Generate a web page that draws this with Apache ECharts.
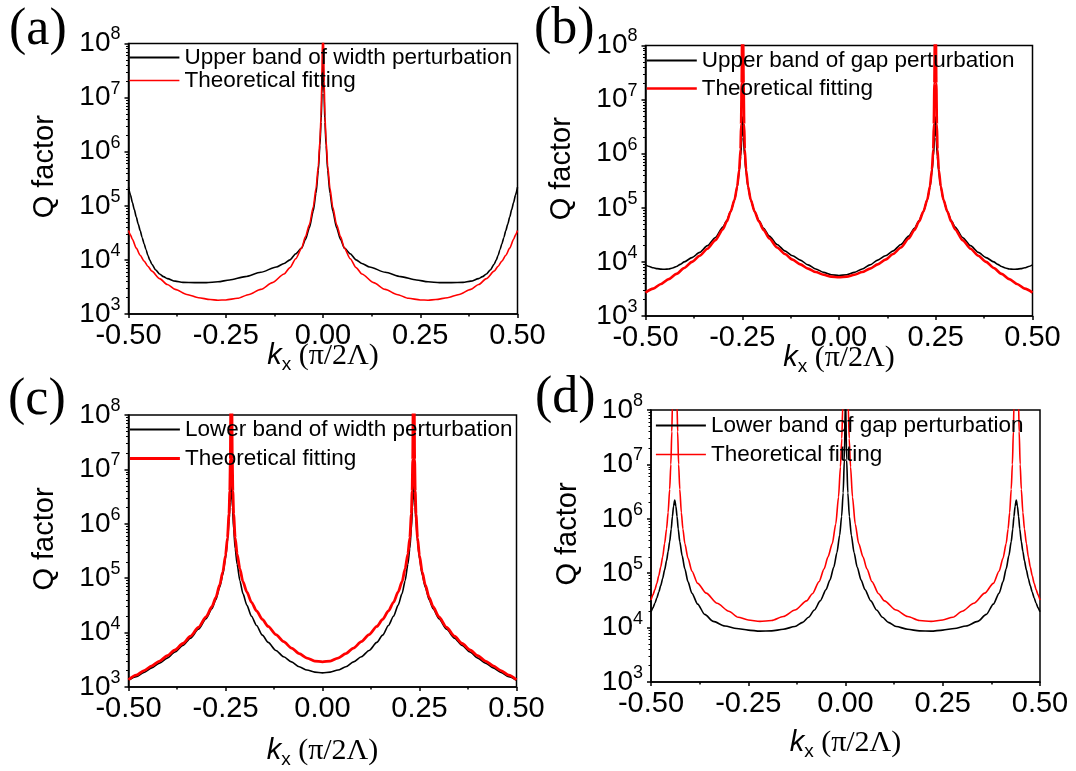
<!DOCTYPE html>
<html>
<head>
<meta charset="utf-8">
<script src="https://cdn.jsdelivr.net/npm/echarts@6/dist/echarts.min.js"></script>
<style>
html,body{margin:0;padding:0;background:#fff;}
#chart{width:1076px;height:771px;}
</style>
</head>
<body>
<div id="chart"></div>
<script>
// ---------------- data ----------------
// (a) upper band, width perturbation
var aBlackX = [-0.5,-0.495,-0.49,-0.485,-0.48,-0.475,-0.47,-0.465,-0.46,-0.455,-0.45,-0.445,-0.44,-0.43,-0.42,-0.41,-0.40,-0.38,-0.36,-0.33,-0.30,-0.27,-0.24,-0.20,-0.16,-0.12,-0.10,-0.085,-0.07,-0.055,-0.045,-0.035,-0.025,-0.018,-0.012,-0.008,-0.005,-0.0025,0,
               0.0025,0.005,0.008,0.012,0.018,0.025,0.035,0.045,0.055,0.07,0.085,0.10,0.12,0.16,0.20,0.24,0.27,0.30,0.33,0.36,0.38,0.40,0.41,0.42,0.43,0.44,0.445,0.45,0.455,0.46,0.465,0.47,0.475,0.48,0.485,0.49,0.495,0.5];
var aBlackQ = [2.2e5,1.6e5,1.15e5,8.5e4,6.2e4,4.6e4,3.5e4,2.6e4,2e4,1.55e4,1.2e4,9.8e3,8.3e3,6.5e3,5.5e3,4.9e3,4.5e3,4.05e3,3.85e3,3.8e3,3.8e3,3.95e3,4.25e3,4.9e3,5.9e3,7.4e3,8.6e3,1.0e4,1.3e4,1.65e4,2.4e4,3.9e4,8e4,1.7e5,4.5e5,1.3e6,3.5e6,1.2e7,5e7,
               1.2e7,3.5e6,1.3e6,4.5e5,1.7e5,8e4,3.9e4,2.4e4,1.65e4,1.3e4,1.0e4,8.6e3,7.4e3,5.9e3,4.9e3,4.25e3,3.95e3,3.8e3,3.8e3,3.85e3,4.05e3,4.5e3,4.9e3,5.5e3,6.5e3,8.3e3,9.8e3,1.2e4,1.55e4,2e4,2.6e4,3.5e4,4.6e4,6.2e4,8.5e4,1.15e5,1.6e5,2.2e5];
var aRedX = [-0.5,-0.495,-0.49,-0.48,-0.47,-0.46,-0.45,-0.44,-0.42,-0.40,-0.38,-0.35,-0.32,-0.29,-0.27,-0.25,-0.22,-0.19,-0.16,-0.13,-0.10,-0.085,-0.07,-0.055,-0.045,-0.035,-0.025,-0.018,-0.012,-0.008,-0.005,-0.003,-0.0015,0,
             0.0015,0.003,0.005,0.008,0.012,0.018,0.025,0.035,0.045,0.055,0.07,0.085,0.10,0.13,0.16,0.19,0.22,0.25,0.27,0.29,0.32,0.35,0.38,0.40,0.42,0.44,0.45,0.46,0.47,0.48,0.49,0.495,0.5];
var aRedQ = [3.5e4,2.9e4,2.4e4,1.65e4,1.22e4,9.5e3,7.6e3,6.2e3,4.5e3,3.5e3,2.85e3,2.3e3,2.0e3,1.85e3,1.8e3,1.82e3,1.95e3,2.3e3,2.85e3,3.8e3,5.5e3,7.2e3,1.05e4,1.65e4,2.7e4,4.5e4,9.5e4,2.1e5,5.5e5,1.6e6,4.5e6,2e7,1.2e8,1e12,
             1.2e8,2e7,4.5e6,1.6e6,5.5e5,2.1e5,9.5e4,4.5e4,2.7e4,1.65e4,1.05e4,7.2e3,5.5e3,3.8e3,2.85e3,2.3e3,1.95e3,1.82e3,1.8e3,1.85e3,2.0e3,2.3e3,2.85e3,3.5e3,4.5e3,6.2e3,7.6e3,9.5e3,1.22e4,1.65e4,2.4e4,2.9e4,3.5e4];

// (b) upper band, gap perturbation
var bBlackX = [-0.5,-0.49,-0.48,-0.47,-0.46,-0.45,-0.44,-0.43,-0.42,-0.41,-0.40,-0.38,-0.36,-0.34,-0.32,-0.30,-0.29,-0.28,-0.27,-0.263,-0.258,-0.254,-0.251,-0.249,-0.247,-0.244,-0.24,-0.235,-0.228,-0.218,-0.207,-0.195,-0.18,-0.16,-0.14,-0.12,-0.10,-0.08,-0.06,-0.04,-0.02,0,
               0.02,0.04,0.06,0.08,0.10,0.12,0.14,0.16,0.18,0.195,0.207,0.218,0.228,0.235,0.24,0.244,0.247,0.249,0.251,0.254,0.258,0.263,0.27,0.28,0.29,0.30,0.32,0.34,0.36,0.38,0.40,0.41,0.42,0.43,0.44,0.45,0.46,0.47,0.48,0.49,0.5];
var bBlackQ = [8.8e3,8.2e3,7.8e3,7.5e3,7.35e3,7.3e3,7.4e3,7.7e3,8.2e3,9e3,1e4,1.2e4,1.5e4,2.0e4,2.8e4,4.4e4,5.8e4,8.5e4,1.4e5,2.4e5,4.5e5,9e5,2e6,4.8e6,2e6,9e5,4.5e5,2.4e5,1.4e5,8.5e4,5.8e4,4.2e4,3e4,2.1e4,1.6e4,1.3e4,1.08e4,8.8e3,7.4e3,6.4e3,5.8e3,5.6e3,
               5.8e3,6.4e3,7.4e3,8.8e3,1.08e4,1.3e4,1.6e4,2.1e4,3e4,4.2e4,5.8e4,8.5e4,1.4e5,2.4e5,4.5e5,9e5,2e6,4.8e6,2e6,9e5,4.5e5,2.4e5,1.4e5,8.5e4,5.8e4,4.4e4,2.8e4,2.0e4,1.5e4,1.2e4,1e4,9e3,8.2e3,7.7e3,7.4e3,7.3e3,7.35e3,7.5e3,7.8e3,8.2e3,8.8e3];
var bRedX = [-0.5,-0.48,-0.46,-0.44,-0.42,-0.40,-0.38,-0.36,-0.34,-0.32,-0.30,-0.29,-0.28,-0.27,-0.263,-0.258,-0.2545,-0.253,-0.2515,-0.2505,-0.249,-0.2475,-0.2465,-0.245,-0.2435,-0.24,-0.235,-0.228,-0.218,-0.207,-0.195,-0.18,-0.16,-0.14,-0.12,-0.10,-0.08,-0.06,-0.04,-0.02,0,
             0.02,0.04,0.06,0.08,0.10,0.12,0.14,0.16,0.18,0.195,0.207,0.218,0.228,0.235,0.24,0.2435,0.245,0.2465,0.2475,0.249,0.2505,0.2515,0.253,0.2545,0.258,0.263,0.27,0.28,0.29,0.30,0.32,0.34,0.36,0.38,0.40,0.42,0.44,0.46,0.48,0.5];
var bRedQ = [2.7e3,3.2e3,3.9e3,4.8e3,6e3,7.7e3,1e4,1.3e4,1.75e4,2.5e4,4e4,5.6e4,8.5e4,1.4e5,2.5e5,5e5,1.2e6,3.5e6,2e7,1.2e8,1e12,1.2e8,2e7,3.5e6,1.2e6,5e5,2.5e5,1.4e5,8.5e4,5.6e4,3.9e4,2.7e4,1.85e4,1.4e4,1.1e4,9e3,7.5e3,6.5e3,5.8e3,5.35e3,5.2e3,
             5.35e3,5.8e3,6.5e3,7.5e3,9e3,1.1e4,1.4e4,1.85e4,2.7e4,3.9e4,5.6e4,8.5e4,1.4e5,2.5e5,5e5,1.2e6,3.5e6,2e7,1.2e8,1e12,1.2e8,2e7,3.5e6,1.2e6,5e5,2.5e5,1.4e5,8.5e4,5.6e4,4e4,2.5e4,1.75e4,1.3e4,1e4,7.7e3,6e3,4.8e3,3.9e3,3.2e3,2.7e3];

// (c) lower band, width perturbation
var cBlackX = [-0.5,-0.48,-0.46,-0.44,-0.42,-0.40,-0.38,-0.36,-0.34,-0.32,-0.30,-0.285,-0.275,-0.265,-0.257,-0.25,-0.245,-0.241,-0.238,-0.235,-0.232,-0.229,-0.225,-0.22,-0.213,-0.205,-0.195,-0.183,-0.17,-0.155,-0.14,-0.12,-0.10,-0.08,-0.06,-0.04,-0.02,0,
               0.02,0.04,0.06,0.08,0.10,0.12,0.14,0.155,0.17,0.183,0.195,0.205,0.213,0.22,0.225,0.229,0.232,0.235,0.238,0.241,0.245,0.25,0.257,0.265,0.275,0.285,0.30,0.32,0.34,0.36,0.38,0.40,0.42,0.44,0.46,0.48,0.5];
var cBlackQ = [1.33e3,1.55e3,1.85e3,2.25e3,2.75e3,3.4e3,4.4e3,5.8e3,7.9e3,1.15e4,1.8e4,2.75e4,4e4,6.8e4,1.15e5,2.3e5,4.7e5,1.1e6,2.5e6,5e6,2e6,8e5,3.5e5,1.8e5,9e4,5.2e4,3.2e4,2e4,1.35e4,9e3,6.6e3,4.7e3,3.6e3,2.9e3,2.35e3,2.05e3,1.88e3,1.82e3,
               1.88e3,2.05e3,2.35e3,2.9e3,3.6e3,4.7e3,6.6e3,9e3,1.35e4,2e4,3.2e4,5.2e4,9e4,1.8e5,3.5e5,8e5,2e6,5e6,2.5e6,1.1e6,4.7e5,2.3e5,1.15e5,6.8e4,4e4,2.75e4,1.8e4,1.15e4,7.9e3,5.8e3,4.4e3,3.4e3,2.75e3,2.25e3,1.85e3,1.55e3,1.33e3];
var cRedX = [-0.5,-0.48,-0.46,-0.44,-0.42,-0.40,-0.38,-0.36,-0.34,-0.32,-0.30,-0.285,-0.275,-0.265,-0.257,-0.25,-0.245,-0.241,-0.239,-0.2375,-0.2365,-0.235,-0.2335,-0.2325,-0.231,-0.229,-0.225,-0.22,-0.213,-0.205,-0.195,-0.183,-0.17,-0.155,-0.14,-0.12,-0.10,-0.08,-0.06,-0.04,-0.02,0,
             0.02,0.04,0.06,0.08,0.10,0.12,0.14,0.155,0.17,0.183,0.195,0.205,0.213,0.22,0.225,0.229,0.231,0.2325,0.2335,0.235,0.2365,0.2375,0.239,0.241,0.245,0.25,0.257,0.265,0.275,0.285,0.30,0.32,0.34,0.36,0.38,0.40,0.42,0.44,0.46,0.48,0.5];
var cRedQ = [1.36e3,1.65e3,2.0e3,2.45e3,3.0e3,3.75e3,4.8e3,6.3e3,8.6e3,1.25e4,1.95e4,3e4,4.4e4,7.5e4,1.3e5,2.6e5,5.5e5,1.5e6,4e6,1.5e7,1.2e8,1e12,1.2e8,1.5e7,4e6,1.5e6,5.5e5,2.8e5,1.5e5,8.6e4,5.6e4,3.6e4,2.5e4,1.75e4,1.3e4,9.2e3,6.8e3,5.2e3,4.1e3,3.4e3,3.0e3,2.9e3,
             3.0e3,3.4e3,4.1e3,5.2e3,6.8e3,9.2e3,1.3e4,1.75e4,2.5e4,3.6e4,5.6e4,8.6e4,1.5e5,2.8e5,5.5e5,1.5e6,4e6,1.5e7,1.2e8,1e12,1.2e8,1.5e7,4e6,1.5e6,5.5e5,2.6e5,1.3e5,7.5e4,4.4e4,3e4,1.95e4,1.25e4,8.6e3,6.3e3,4.8e3,3.75e3,3.0e3,2.45e3,2.0e3,1.65e3,1.36e3];

// (d) lower band, gap perturbation
var dBlackX = [-0.5,-0.495,-0.49,-0.485,-0.48,-0.475,-0.47,-0.465,-0.46,-0.456,-0.452,-0.448,-0.445,-0.442,-0.439,-0.436,-0.433,-0.43,-0.426,-0.42,-0.413,-0.405,-0.395,-0.38,-0.362,-0.34,-0.31,-0.28,-0.25,-0.22,-0.19,-0.16,-0.13,-0.11,-0.095,-0.08,-0.065,-0.05,-0.04,-0.03,-0.022,-0.015,-0.01,-0.006,-0.003,0,
               0.003,0.006,0.01,0.015,0.022,0.03,0.04,0.05,0.065,0.08,0.095,0.11,0.13,0.16,0.19,0.22,0.25,0.28,0.31,0.34,0.362,0.38,0.395,0.405,0.413,0.42,0.426,0.43,0.433,0.436,0.439,0.442,0.445,0.448,0.452,0.456,0.46,0.465,0.47,0.475,0.48,0.485,0.49,0.495,0.5];
var dBlackQ = [1.96e4,2.3e4,2.8e4,3.5e4,4.5e4,5.9e4,8e4,1.15e5,1.7e5,2.5e5,3.8e5,6.5e5,1.1e6,1.7e6,2.2e6,1.7e6,1.1e6,6.5e5,3.8e5,2.1e5,1.2e5,7e4,4.3e4,2.7e4,1.75e4,1.3e4,1.07e4,9.6e3,9e3,8.6e3,8.7e3,9.3e3,1.05e4,1.25e4,1.55e4,2.1e4,3.1e4,5e4,7.5e4,1.3e5,2.4e5,5e5,1.1e6,3e6,1.2e7,2e8,
               1.2e7,3e6,1.1e6,5e5,2.4e5,1.3e5,7.5e4,5e4,3.1e4,2.1e4,1.55e4,1.25e4,1.05e4,9.3e3,8.7e3,8.6e3,9e3,9.6e3,1.07e4,1.3e4,1.75e4,2.7e4,4.3e4,7e4,1.2e5,2.1e5,3.8e5,6.5e5,1.1e6,1.7e6,2.2e6,1.7e6,1.1e6,6.5e5,3.8e5,2.5e5,1.7e5,1.15e5,8e4,5.9e4,4.5e4,3.5e4,2.8e4,2.3e4,1.96e4];
var dRedX = [-0.5,-0.495,-0.49,-0.485,-0.48,-0.475,-0.47,-0.465,-0.46,-0.456,-0.452,-0.449,-0.4465,-0.445,-0.442,-0.439,-0.436,-0.433,-0.4315,-0.429,-0.426,-0.422,-0.418,-0.413,-0.405,-0.395,-0.38,-0.358,-0.33,-0.30,-0.276,-0.25,-0.22,-0.19,-0.16,-0.13,-0.10,-0.085,-0.068,-0.055,-0.045,-0.034,-0.025,-0.018,-0.013,-0.0095,-0.007,-0.003,0,
             0.003,0.007,0.0095,0.013,0.018,0.025,0.034,0.045,0.055,0.068,0.085,0.10,0.13,0.16,0.19,0.22,0.25,0.276,0.30,0.33,0.358,0.38,0.395,0.405,0.413,0.418,0.422,0.426,0.429,0.4315,0.433,0.436,0.439,0.442,0.445,0.4465,0.449,0.452,0.456,0.46,0.465,0.47,0.475,0.48,0.485,0.49,0.495,0.5];
var dRedQ = [3.2e4,4e4,5e4,6.5e4,9e4,1.3e5,2e5,3.5e5,6.5e5,1.3e6,3.5e6,1e7,4e7,1.2e8,1e10,1e12,1e10,1.2e8,4e7,1e7,3.5e6,1.3e6,6.5e5,3.5e5,1.9e5,1.1e5,6.5e4,4.3e4,2.8e4,2e4,1.55e4,1.38e4,1.3e4,1.35e4,1.6e4,2.1e4,3.1e4,4.2e4,7e4,1.2e5,2e5,3.5e5,8e5,2.5e6,9e6,3e7,1.2e8,1e10,1e12,
             1e10,1.2e8,3e7,9e6,2.5e6,8e5,3.5e5,2e5,1.2e5,7e4,4.2e4,3.1e4,2.1e4,1.6e4,1.35e4,1.3e4,1.38e4,1.55e4,2e4,2.8e4,4.3e4,6.5e4,1.1e5,1.9e5,3.5e5,6.5e5,1.3e6,3.5e6,1e7,4e7,1.2e8,1e10,1e12,1e10,1.2e8,4e7,1e7,3.5e6,1.3e6,6.5e5,3.5e5,2e5,1.3e5,9e4,6.5e4,5e4,4e4,3.2e4];

var panelLabels = ['(a)', '(b)', '(c)', '(d)'];
var blackNames = ['Upper band of width perturbation', 'Upper band of gap perturbation',
                  'Lower band of width perturbation', 'Lower band of gap perturbation'];
var redName = 'Theoretical fitting';
var xAxisTitle = '{k|k}{x|x}{p| (π/2Λ)}';
var yAxisTitle = 'Q factor';
// minor tick positions on the log axis (2..9 × each decade)
var minorDecades = [1e3, 1e4, 1e5, 1e6, 1e7];
var minorSteps = [2, 3, 4, 5, 6, 7, 8, 9];
var yMinorTicks = [];
minorDecades.forEach(function (d) { minorSteps.forEach(function (s) { yMinorTicks.push(d * s); }); });

// ---------------- layout ----------------
var panels = [
  {bx: aBlackX, by: aBlackQ, rx: aRedX, ry: aRedQ, grid: {left: 128.5, top: 43.5, width: 389, height: 270.5}, redW: 1.6,
   label: {x: 9, y: 30}, legTop: 46, legLeft: 128.5, legGap: 0, xNameGap: 24},
  {bx: bBlackX, by: bBlackQ, rx: bRedX, ry: bRedQ, grid: {left: 645.5, top: 45.5, width: 387, height: 270.5}, redW: 2.6,
   label: {x: 534, y: 29}, legTop: 49, legLeft: 645.5, legGap: 5, xNameGap: 24},
  {bx: cBlackX, by: cBlackQ, rx: cRedX, ry: cRedQ, grid: {left: 128.5, top: 415, width: 388, height: 272}, redW: 2.8,
   label: {x: 8, y: 400}, legTop: 418, legLeft: 128.5, legGap: 6, xNameGap: 46},
  {bx: dBlackX, by: dBlackQ, rx: dRedX, ry: dRedQ, grid: {left: 651, top: 410, width: 389, height: 272}, redW: 1.6,
   label: {x: 535, y: 398}, legTop: 414, legLeft: 655, legGap: 6, xNameGap: 43}
];

function pairs(xs, ys) { return xs.map(function (x, i) { return [x, ys[i]]; }); }

var SANS = 'Liberation Sans, Arial, sans-serif';
var SERIF = 'Liberation Serif, Times New Roman, serif';

var option = {
  animation: false,
  backgroundColor: '#fff',
  grid: [], xAxis: [], yAxis: [], series: [], legend: [], title: []
};

panels.forEach(function (p, i) {
  option.grid.push({
    left: p.grid.left, top: p.grid.top, width: p.grid.width, height: p.grid.height,
    show: true, borderColor: '#000', borderWidth: 1.5, backgroundColor: 'transparent',
    containLabel: false, outerBoundsMode: 'none'
  });
  option.xAxis.push({
    type: 'value', gridIndex: i, min: -0.5, max: 0.5, interval: 0.25,
    axisLine: {show: true, onZero: false, lineStyle: {color: '#000', width: 1.5}},
    axisTick: {show: true, inside: false, length: 4, lineStyle: {color: '#000', width: 1.5}},
    minorTick: {show: true, splitNumber: 2, length: 2.5, lineStyle: {color: '#000', width: 1.5}},
    splitLine: {show: false},
    axisLabel: {color: '#000', fontFamily: SANS, fontSize: 29, margin: 7,
      formatter: function (v) { return v.toFixed(2); }},
    name: xAxisTitle, nameLocation: 'middle', nameGap: p.xNameGap, nameMoveOverlap: false,
    nameTextStyle: {color: '#000', rich: {
      k: {fontFamily: SANS, fontStyle: 'italic', fontSize: 29, color: '#000', lineHeight: 36, verticalAlign: 'middle'},
      x: {fontFamily: SANS, fontSize: 19, color: '#000', lineHeight: 18, verticalAlign: 'bottom'},
      p: {fontFamily: SERIF, fontSize: 30, color: '#000', lineHeight: 36, verticalAlign: 'middle'}
    }}
  });
  option.yAxis.push({
    type: 'log', logBase: 10, gridIndex: i, min: 1e3, max: 1e8, splitNumber: 5,
    axisLine: {show: true, onZero: false, lineStyle: {color: '#000', width: 1.5}},
    axisTick: {show: true, inside: false, length: 4, lineStyle: {color: '#000', width: 1.5}},
    splitLine: {show: false},
    axisLabel: {margin: 8, color: '#000',
      formatter: function (v) { return '{b|10}{s|' + Math.round(Math.log10(v)) + '}'; },
      rich: {
        b: {fontFamily: SANS, fontSize: 28, color: '#000', lineHeight: 36, verticalAlign: 'middle'},
        s: {fontFamily: SANS, fontSize: 18, color: '#000', lineHeight: 18, verticalAlign: 'top'}
      }},
    name: yAxisTitle, nameLocation: 'middle', nameGap: 69, nameMoveOverlap: false,
    nameTextStyle: {color: '#000', fontFamily: SANS, fontSize: 29, padding: [0, 0, 0, 24]}
  });
  option.series.push({
    type: 'line', name: blackNames[i], xAxisIndex: i, yAxisIndex: i,
    data: pairs(p.bx, p.by), symbol: 'none', clip: true, smooth: 0.25, smoothMonotone: 'x',
    lineStyle: {color: '#000', width: 1.6}, itemStyle: {color: '#000'}
  });
  option.series.push({
    type: 'line', name: redName, xAxisIndex: i, yAxisIndex: i,
    data: pairs(p.rx, p.ry), symbol: 'none', clip: true, smooth: 0.25, smoothMonotone: 'x',
    lineStyle: {color: '#ff0000', width: p.redW}, itemStyle: {color: '#ff0000'}
  });
  option.legend.push({
    orient: 'vertical', left: p.legLeft, top: p.legTop, padding: 0,
    itemWidth: 50, itemHeight: 2, itemGap: p.legGap, selectedMode: false,
    itemStyle: {opacity: 0},
    textStyle: {color: '#000', fontFamily: SANS, fontSize: 22.5, lineHeight: 22},
    data: [
      {name: blackNames[i], lineStyle: {color: '#000', width: 1.8}},
      {name: redName, lineStyle: {color: '#ff0000', width: p.redW}}
    ]
  });
  option.title.push({
    text: panelLabels[i], left: p.label.x, top: p.label.y - 30, padding: 0,
    textStyle: {fontFamily: SERIF, fontSize: 52, fontWeight: 'normal', color: '#000', lineHeight: 60}
  });
});

// extra log axes carrying only the 2..9 minor ticks, on the left edge of each frame
panels.forEach(function (p, i) {
  option.yAxis.push({
    type: 'log', logBase: 10, gridIndex: i, min: 1e3, max: 1e8, position: 'left', offset: 0,
    axisLine: {show: false, onZero: false},
    axisTick: {show: true, inside: false, length: 2.5, customValues: yMinorTicks, lineStyle: {color: '#000', width: 1}},
    axisLabel: {show: false}, splitLine: {show: false}
  });
});

var chart = echarts.init(document.getElementById('chart'), null, {renderer: 'canvas'});
chart.setOption(option);
</script>
</body>
</html>
